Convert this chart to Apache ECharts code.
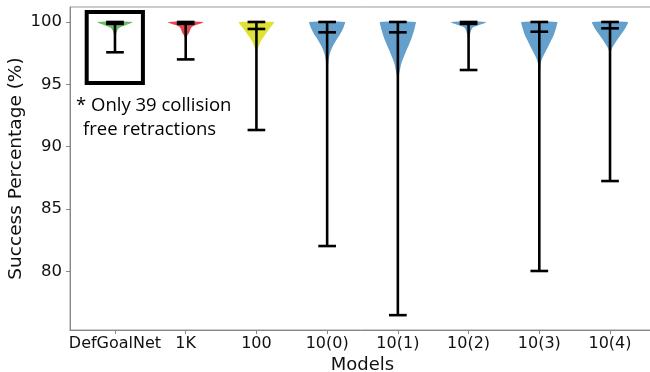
<!DOCTYPE html>
<html>
<head>
<meta charset="utf-8">
<script src="https://cdn.jsdelivr.net/npm/echarts@6/dist/echarts.min.js"></script>
<style>html,body{margin:0;padding:0;background:#fff}#chart{width:650px;height:372px}</style>
</head>
<body>
<div id="chart"></div>
<script>
// ---- data ----
const categories = ['DefGoalNet', '1K', '100', '10(0)', '10(1)', '10(2)', '10(3)', '10(4)'];
const positions = [1, 2, 3, 4, 5, 6, 7, 8];
const maxs = [100, 100, 100, 100, 100, 100, 100, 100];
const medians = [99.85, 99.85, 99.44, 99.17, 99.17, 99.85, 99.22, 99.49];
const mins = [97.57, 97.0, 91.34, 82.04, 76.5, 96.15, 80.04, 87.25];
// density profiles: [value, half width in axis units], from max down to min
const profDefGoalNet = [[100, 0.25], [99.85, 0.2], [99.7, 0.13], [99.55, 0.07], [99.4, 0.04], [99.2, 0.025], [99.0, 0.015], [98.8, 0.006], [98.4, 0.002], [97.57, 0]];
const prof1K = [[100, 0.25], [99.85, 0.2], [99.7, 0.12], [99.55, 0.08], [99.3, 0.06], [99.1, 0.045], [98.9, 0.02], [98.6, 0.006], [98.2, 0.002], [97.0, 0]];
const prof100 = [[100, 0.25], [99.8, 0.23], [99.58, 0.2], [99.2, 0.15], [98.8, 0.1], [98.4, 0.056], [98.0, 0.028], [97.6, 0.007], [96.5, 0.002], [91.34, 0]];
const prof10_0 = [[100, 0.25], [99.7, 0.24], [99.36, 0.215], [98.9, 0.17], [98.56, 0.13], [98.0, 0.075], [97.5, 0.04], [96.95, 0.02], [96.0, 0.008], [94.0, 0.003], [90.0, 0.001], [82.04, 0]];
const prof10_1 = [[100, 0.25], [99.7, 0.245], [99.36, 0.23], [98.8, 0.2], [98.3, 0.165], [97.5, 0.105], [96.7, 0.05], [96.0, 0.025], [95.6, 0.012], [94.5, 0.005], [90.0, 0.002], [76.5, 0]];
const prof10_2 = [[100, 0.25], [99.85, 0.2], [99.7, 0.12], [99.55, 0.06], [99.3, 0.035], [99.0, 0.02], [98.7, 0.01], [98.2, 0.004], [97.5, 0.001], [96.15, 0]];
const prof10_3 = [[100, 0.25], [99.7, 0.245], [99.36, 0.228], [98.9, 0.2], [98.56, 0.17], [97.75, 0.1], [97.2, 0.05], [96.7, 0.02], [95.5, 0.006], [90.0, 0.002], [80.04, 0]];
const prof10_4 = [[100, 0.25], [99.7, 0.235], [99.36, 0.2], [98.8, 0.13], [98.3, 0.07], [97.9, 0.028], [97.5, 0.01], [95.0, 0.003], [87.25, 0]];
const profiles = [profDefGoalNet, prof1K, prof100, prof10_0, prof10_1, prof10_2, prof10_3, prof10_4];
const yTicks = [80, 85, 90, 95, 100];
// annotation
const boxX = [0.6, 1.395];
const boxY = [95.11, 100.8];
const noteLine1 = '* Only 39 collision';
const noteLine2 = 'free retractions';
const note1Pos = [0.449, 93.27];
const note2Pos = [0.548, 91.34];

// ---- styles ----
const fills = ['#6abc6a', '#e8474c', '#dfe135', '#64a0cb', '#64a0cb', '#64a0cb', '#64a0cb', '#64a0cb'];
const capHalf = 0.125;
const lineW = 2.6;

const chart = echarts.init(document.getElementById('chart'));
chart.setOption({
  animation: false,
  grid: { left: 70, right: -5, top: 7, bottom: 42, show: true, borderColor: '#999', borderWidth: 1, outerBoundsMode: 'none', containLabel: false },
  xAxis: {
    type: 'value', min: 0.364, max: 8.636,
    name: 'Models', nameLocation: 'middle', nameGap: 26, nameMoveOverlap: false,
    nameTextStyle: { fontFamily: 'DejaVu Sans', fontSize: 18, color: '#111' },
    axisLine: { show: true, lineStyle: { color: '#888' } },
    axisTick: { show: true, length: 4, customValues: positions, lineStyle: { color: '#888' } },
    axisLabel: { customValues: positions, margin: 6, fontFamily: 'DejaVu Sans', fontSize: 16, color: '#111',
      formatter: v => categories[Math.round(v) - 1] },
    splitLine: { show: false }
  },
  yAxis: {
    type: 'value', min: 75.31, max: 101.2,
    name: 'Success Percentage (%)', nameLocation: 'middle', nameGap: 44, nameMoveOverlap: false,
    nameTextStyle: { fontFamily: 'DejaVu Sans', fontSize: 18.5, color: '#111' },
    axisLine: { show: true, lineStyle: { color: '#888' } },
    axisTick: { show: true, length: 4, customValues: yTicks, lineStyle: { color: '#888' } },
    axisLabel: { customValues: yTicks, margin: 8, fontFamily: 'DejaVu Sans', fontSize: 16.5, color: '#111' },
    splitLine: { show: false }
  },
  series: [
    {
      type: 'custom',
      data: positions.map((p, i) => [i]),
      renderItem: function (params, api) {
        const i = api.value(0);
        const pos = positions[i];
        const prof = profiles[i];
        const right = prof.map(d => api.coord([pos + d[1], d[0]]));
        const left = prof.slice().reverse().map(d => api.coord([pos - d[1], d[0]]));
        const pts = right.concat(left);
        const top = api.coord([pos, maxs[i]]);
        const bot = api.coord([pos, mins[i]]);
        const med = api.coord([pos, medians[i]]);
        const cl = api.coord([pos - capHalf, 0])[0];
        const cr = api.coord([pos + capHalf, 0])[0];
        const ls = { stroke: '#000', lineWidth: lineW };
        return {
          type: 'group',
          children: [
            { type: 'polygon', shape: { points: pts, smooth: 0.3 }, style: { fill: fills[i], stroke: null } },
            { type: 'line', shape: { x1: top[0], y1: top[1], x2: bot[0], y2: bot[1] }, style: ls },
            { type: 'line', shape: { x1: cl, y1: top[1], x2: cr, y2: top[1] }, style: ls },
            { type: 'line', shape: { x1: cl, y1: bot[1], x2: cr, y2: bot[1] }, style: ls },
            { type: 'line', shape: { x1: cl, y1: med[1], x2: cr, y2: med[1] }, style: ls }
          ]
        };
      }
    },
    {
      type: 'custom',
      data: [[0]],
      renderItem: function (params, api) {
        const p1 = api.coord([boxX[0], boxY[1]]);
        const p2 = api.coord([boxX[1], boxY[0]]);
        const t1 = api.coord(note1Pos);
        const t2 = api.coord(note2Pos);
        const font = '18.5px "Open Sans"';
        return {
          type: 'group',
          children: [
            { type: 'rect', shape: { x: p1[0], y: p1[1], width: p2[0] - p1[0], height: p2[1] - p1[1] },
              style: { fill: null, stroke: '#000', lineWidth: 4 } },
            { type: 'text', style: { text: noteLine1, x: t1[0], y: t1[1], font: font, fill: '#000', verticalAlign: 'middle', align: 'left' } },
            { type: 'text', style: { text: noteLine2, x: t2[0], y: t2[1], font: font, fill: '#000', verticalAlign: 'middle', align: 'left' } }
          ]
        };
      }
    }
  ]
});
</script>
</body>
</html>
